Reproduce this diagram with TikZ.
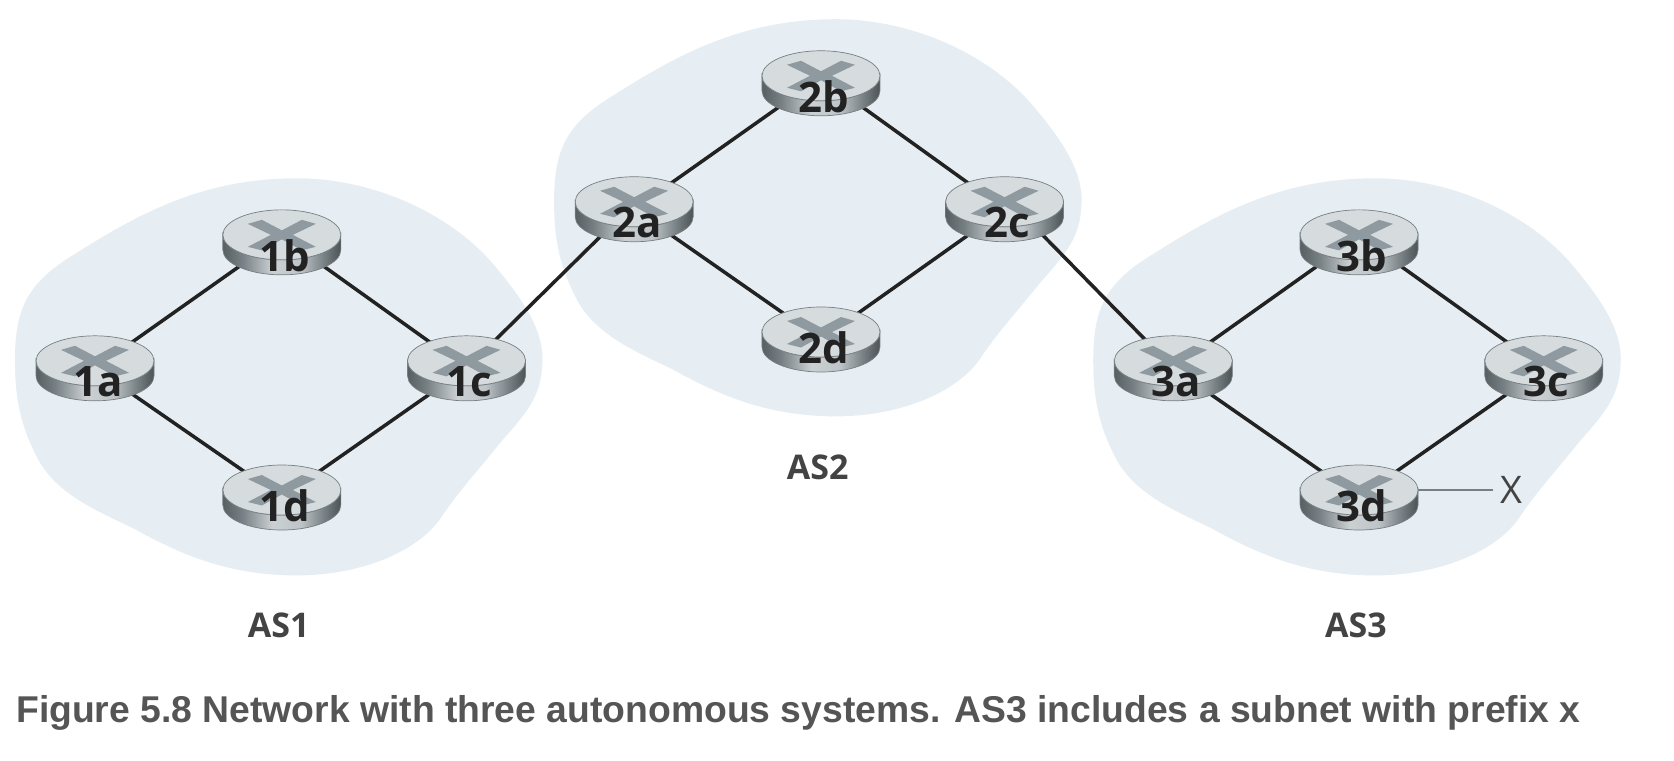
\documentclass[tikz,border=0pt]{standalone}
\usepackage{fontspec}
\setmainfont{Open Sans}
\newfontfamily\capfont{Liberation Sans}
\usetikzlibrary{shapes.geometric,backgrounds,calc}
\definecolor{blobc}{HTML}{E6EEF3}
\definecolor{topc}{HTML}{D6DBDE}
\definecolor{edgec}{HTML}{767F83}
\definecolor{crossc}{HTML}{8F9AA0}
\definecolor{linec}{HTML}{222222}
\definecolor{textc}{HTML}{222222}
\definecolor{capc}{HTML}{555555}
\pgfdeclarehorizontalshading{routerside}{100bp}{
  color(0bp)=(edgec!75!black);
  color(25bp)=(edgec!75!black);
  color(33bp)=(edgec);
  color(46bp)=(topc!95!black);
  color(58bp)=(topc!75!edgec);
  color(68bp)=(edgec);
  color(75bp)=(edgec!65!black);
  color(100bp)=(edgec!65!black)}
\tikzset{
  routerbase/.style={ellipse,inner sep=0pt,minimum width=112pt,minimum height=62pt},
  routerlabel/.style={inner sep=0pt,text=textc,font=\bfseries\fontsize{42}{42}\selectfont},
  aslabel/.style={inner sep=0pt,text=textc!85!white,font=\bfseries\fontsize{34}{34}\selectfont},
  xlabel/.style={inner sep=0pt,text=textc!85!white,font=\fontsize{38}{38}\selectfont},
  caption/.style={inner sep=0pt,anchor=base west,text=capc,font=\capfont\bfseries\fontsize{37.3}{37.3}\selectfont},
  linkline/.style={line width=3.5pt,draw=linec},
  stubline/.style={line width=2pt,draw=edgec},
  blob/.style={fill=blobc,draw=none},
  crossmark/.style={fill=crossc,draw=none}
}
\newcommand{\routerat}[5][13pt]{% label drop, name, x, y, label
  \node[routerbase] (#2) at (#3,#4) {};
  \coordinate (#2t) at ($(#2.center)+(0pt,6pt)$);
  \begin{scope}[shift={(#2.center)}]
    \path[shading=routerside,draw=edgec,line width=.7pt]
      (-59pt,-7.5pt) -- (-59pt,7.5pt) arc[start angle=180,end angle=360,x radius=59pt,y radius=25pt]
      -- (59pt,-7.5pt) arc[start angle=0,end angle=-180,x radius=59pt,y radius=25pt] -- cycle;
    \path[fill=topc,draw=edgec,line width=.7pt] (0pt,7.5pt) ellipse[x radius=59pt,y radius=25pt];
    \path[crossmark,shift={(0pt,7.5pt)}]
      (-34pt,11pt) -- (-20pt,15pt) -- (0pt,4.5pt) -- (20pt,15pt) -- (34pt,11pt) -- (11pt,0pt)
      -- (34pt,-12pt) -- (20pt,-15.5pt) -- (0pt,-4.5pt) -- (-20pt,-15.5pt) -- (-34pt,-12pt) -- (-11pt,0pt) -- cycle;
  \end{scope}
  \node[routerlabel] (#2l) at ($(#2.center)+(3pt,-#1)$) {#5};
}
\newcommand{\blobshape}[2]{%
  \begin{scope}[shift={(#1,#2)}]
    \fill[blob] (14,337) .. controls (14,290) and (25,265) .. (70,238)
      .. controls (130,200) and (190,167) .. (278,167)
      .. controls (350,167) and (420,200) .. (460,245)
      .. controls (490,280) and (510,310) .. (508,340)
      .. controls (507,370) and (495,385) .. (470,413)
      .. controls (450,438) and (430,460) .. (415,482)
      .. controls (395,515) and (340,539) .. (278,539)
      .. controls (215,539) and (170,520) .. (125,495)
      .. controls (90,478) and (50,462) .. (33,425)
      .. controls (18,395) and (14,370) .. (14,337) -- cycle;
  \end{scope}}
\begin{document}
\begin{tikzpicture}[x=1.0676pt,y=-1.0676pt]
\useasboundingbox (0,0) rectangle (1568,712);
\routerat{r1a}{89}{345}{1a}
\routerat{r1b}{264}{227}{1b}
\routerat{r1c}{437}{345}{1c}
\routerat[8pt]{r1d}{264}{466}{1d}
\routerat{r2a}{594}{196}{2a}
\routerat{r2b}{769}{78}{2b}
\routerat{r2c}{941}{196}{2c}
\routerat[8pt]{r2d}{769}{318}{2d}
\routerat{r3a}{1099}{345}{3a}
\routerat{r3b}{1273}{227}{3b}
\routerat{r3c}{1446}{345}{3c}
\routerat[8pt]{r3d}{1273}{466}{3d}
\node[aslabel] (as1) at (261,586) {AS1};
\node[aslabel] (as2) at (766,438) {AS2};
\node[aslabel] (as3) at (1270,586) {AS3};
\node[xlabel] (xl) at (1416,459) {X};
\node[caption] (cap) at (15,677) {Figure 5.8 Network with three autonomous systems. AS3 includes a subnet with prefix x};
\begin{scope}[on background layer]
  \blobshape{0}{0}
  \blobshape{505}{-149}
  \blobshape{1010}{0}
  \foreach \a/\b in {r1a/r1bt,r1bt/r1c,r1a/r1d,r1d/r1c,r1c/r2at,r2a/r2bt,r2bt/r2c,r2a/r2d,r2d/r2c,r3a/r3bt,r3bt/r3c,r3a/r3d,r3d/r3c}
    \draw[linkline] (\a) -- (\b);
  \draw[linkline] ($(r2c.center)+(0pt,13pt)$) -- (r3a);
  \draw[stubline] (xl.west) ++(-8pt,0) -- (r3d.east |- xl.west);
\end{scope}
\end{tikzpicture}
\end{document}
